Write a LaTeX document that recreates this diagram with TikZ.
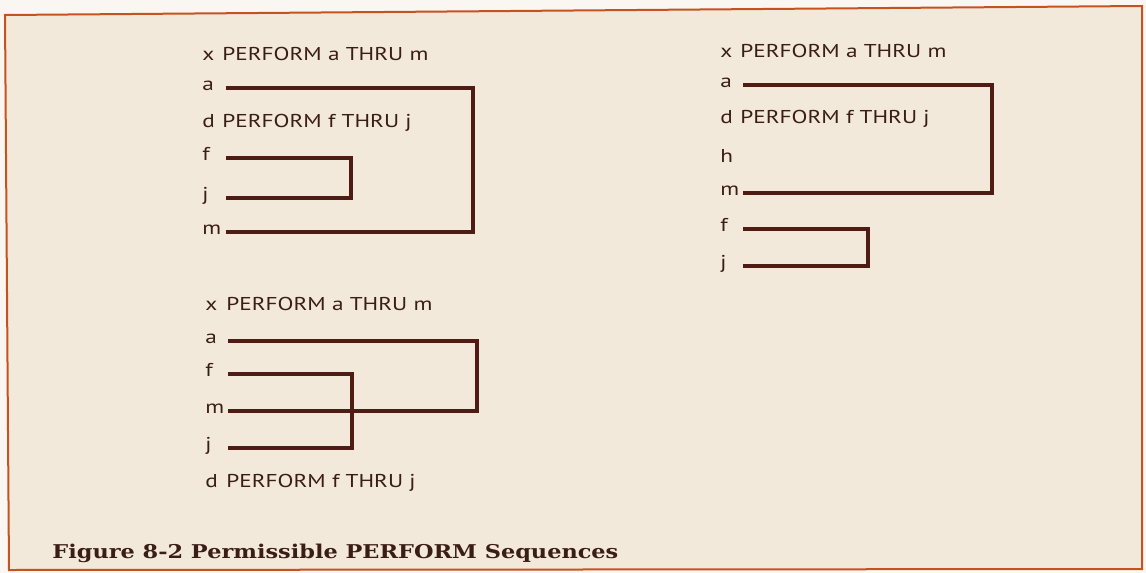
\documentclass[tikz,border=0pt]{standalone}
\usepackage{fontspec}
\setsansfont{PT Sans}[FakeStretch=1.25]
\newfontfamily\capfont{DejaVu Serif}[FakeStretch=1.18]
\definecolor{paper}{HTML}{F2E9DB}
\definecolor{margin}{HTML}{FAF7F2}
\definecolor{rule}{HTML}{C5521F}
\definecolor{ink}{HTML}{3A1D16}
\definecolor{wire}{HTML}{4E1B15}
\tikzset{
  lbl/.style={anchor=base west, inner sep=0pt, text=ink, font=\sffamily\fontsize{9.3}{9.3}\selectfont},
  bracket/.style={draw=wire, line width=1.7pt},
}
\begin{document}
\begin{tikzpicture}[x=0.5pt, y=-0.5pt]
    \useasboundingbox (0,0) rectangle (1146,573);
    \fill[margin] (0,0) rectangle (1146,573);
    % page frame (the scan is a bit skewed)
    \filldraw[fill=paper, draw=rule, line width=1pt] (5,15) -- (1142,6) -- (1142,569) -- (9,570) -- cycle;

    % nested: a THRU m holds f THRU j
    \coordinate (t1) at (222,0);
    \coordinate (s1) at (226,0);
    \coordinate (q1) at (351,0);
    \coordinate (r1) at (473,0);
    \foreach \lab/\y in {x/60, a/90, d/127, f/160, j/200, m/234}
        \node[lbl] (p1\lab) at (202,\y) {\lab};
    \node[lbl] (p1xs) at (p1x.base -| t1) {PERFORM a THRU m};
    \node[lbl] (p1ds) at (p1d.base -| t1) {PERFORM f THRU j};
    \draw[bracket] ([yshift=1pt]p1a.base -| s1) -| ([yshift=1pt]p1m.base -| r1) -- ([yshift=1pt]p1m.base -| s1);
    \draw[bracket] ([yshift=1pt]p1f.base -| s1) -| ([yshift=1pt]p1j.base -| q1) -- ([yshift=1pt]p1j.base -| s1);

    % disjoint: f THRU j outside a THRU m
    \coordinate (t2) at (740,0);
    \coordinate (s2) at (743,0);
    \coordinate (q2) at (868,0);
    \coordinate (r2) at (992,0);
    \foreach \lab/\y in {x/57, a/87, d/123, h/162, m/195, f/231, j/268}
        \node[lbl] (p2\lab) at (720,\y) {\lab};
    \node[lbl] (p2xs) at (p2x.base -| t2) {PERFORM a THRU m};
    \node[lbl] (p2ds) at (p2d.base -| t2) {PERFORM f THRU j};
    \draw[bracket] ([yshift=1pt]p2a.base -| s2) -| ([yshift=1pt]p2m.base -| r2) -- ([yshift=1pt]p2m.base -| s2);
    \draw[bracket] ([yshift=1pt]p2f.base -| s2) -| ([yshift=1pt]p2j.base -| q2) -- ([yshift=1pt]p2j.base -| s2);

    % overlapping: f THRU j crosses the exit of a THRU m
    \coordinate (t3) at (226,0);
    \coordinate (s3) at (228,0);
    \coordinate (q3) at (352,0);
    \coordinate (r3) at (477,0);
    \foreach \lab/\y in {x/310, a/343, f/376, m/413, j/450, d/487}
        \node[lbl] (p3\lab) at (205,\y) {\lab};
    \node[lbl] (p3xs) at (p3x.base -| t3) {PERFORM a THRU m};
    \node[lbl] (p3ds) at (p3d.base -| t3) {PERFORM f THRU j};
    \draw[bracket] ([yshift=1pt]p3a.base -| s3) -| ([yshift=1pt]p3m.base -| r3) -- ([yshift=1pt]p3m.base -| s3);
    \draw[bracket] ([yshift=1pt]p3f.base -| s3) -| ([yshift=1pt]p3j.base -| q3) -- ([yshift=1pt]p3j.base -| s3);

    \node[anchor=base west, inner sep=0pt, text=ink, font=\capfont\bfseries\fontsize{9.5}{10}\selectfont] (caption) at (52,558) {Figure 8-2 Permissible PERFORM Sequences};
\end{tikzpicture}
\end{document}
